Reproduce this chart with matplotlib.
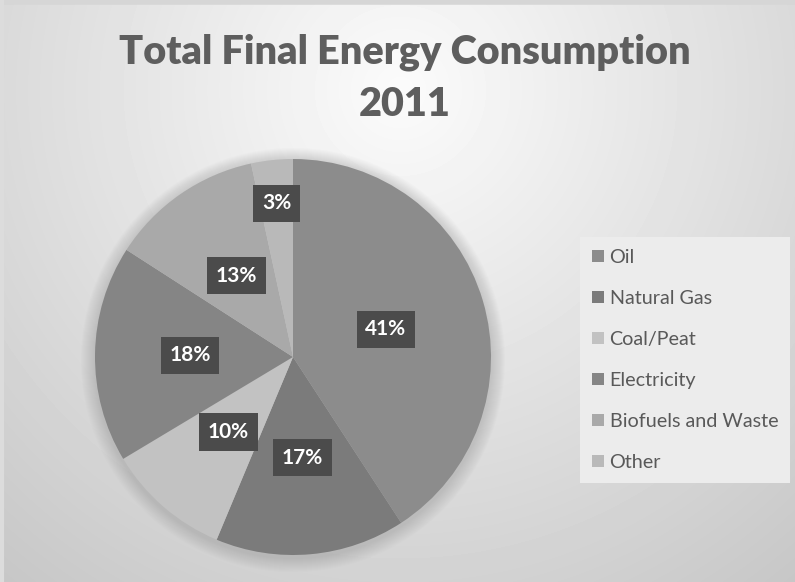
import numpy as np
import matplotlib
matplotlib.use('Agg')
import matplotlib.pyplot as plt
from matplotlib.patches import Patch

plt.rcParams['font.family'] = ['Lato', 'DejaVu Sans']

# data
categories = ['Oil', 'Natural Gas', 'Coal/Peat', 'Electricity', 'Biofuels and Waste', 'Other']
shares = [40.8, 15.5, 10.1, 17.7, 12.5, 3.4]
shown_labels = ['41%', '17%', '10%', '18%', '13%', '3%']
colors = ['#8c8c8c', '#7b7b7b', '#c2c2c2', '#858585', '#a9a9a9', '#b9b9b9']
label_radius = [0.49, 0.51, 0.5, 0.52, 0.5, 0.78]

W, H = 795, 582
fig = plt.figure(figsize=(W / 100, H / 100), dpi=100)

# background: soft radial gradient, light at the top middle
bg = fig.add_axes([0, 0, 1, 1])
yy, xx = np.mgrid[0:H, 0:W]
d = np.sqrt(((xx - 400) / 520.0) ** 2 + ((yy - 90) / 520.0) ** 2)
shade = 0.985 - 0.17 * np.clip(d, 0, 1.2)
bg.imshow(shade, cmap='gray', vmin=0, vmax=1, extent=[0, W, H, 0], aspect='auto')
bg.plot([0, W], [2, 2], color='#d6d6d6', lw=4)
bg.plot([2, 2], [0, H], color='#dcdcdc', lw=3)
bg.set_xlim(0, W)
bg.set_ylim(H, 0)
bg.axis('off')

# soft shadow ring around the pie, a bit lower than the pie itself
cx, cy, r = 293, 357, 198
for k in range(14):
    circ = plt.Circle((cx, cy + 3), r + 14 - k, color='#707070', alpha=0.02, lw=0)
    bg.add_patch(circ)

ax = fig.add_axes([(cx - r) / W, (H - cy - r) / H, 2 * r / W, 2 * r / H])
wedges, _ = ax.pie(shares, colors=colors, startangle=90, counterclock=False,
                   radius=1, wedgeprops=dict(linewidth=0))
for w, txt, rad in zip(wedges, shown_labels, label_radius):
    ang = np.deg2rad((w.theta1 + w.theta2) / 2)
    ax.text(rad * np.cos(ang), rad * np.sin(ang), txt, ha='center', va='center',
            color='white', fontsize=15, fontweight='bold',
            bbox=dict(boxstyle='square,pad=0.42', facecolor='#4b4b4b', edgecolor='none'))
ax.set_xlim(-1, 1)
ax.set_ylim(-1, 1)
ax.set_aspect('equal')
ax.axis('off')

fig.text(405 / W, 1 - 52 / H, 'Total Final Energy Consumption', ha='center', va='center',
         fontsize=28.5, fontweight='heavy', color='#5e5e5e')
fig.text(405 / W, 1 - 105 / H, '2011', ha='center', va='center',
         fontsize=28.5, fontweight='heavy', color='#5e5e5e')

handles = [Patch(facecolor=c, edgecolor='none') for c in colors]
leg = fig.legend(handles, categories, loc='upper left',
                 bbox_to_anchor=(580 / W, 1 - 237 / H), frameon=True, fancybox=False,
                 fontsize=14.2, labelspacing=1.22, handlelength=0.6, handleheight=0.6,
                 handletextpad=0.3, borderpad=0.6, borderaxespad=0)
leg.get_frame().set_facecolor('#ececec')
leg.get_frame().set_edgecolor('none')
leg.get_frame().set_alpha(1)
for t in leg.get_texts():
    t.set_color('#595959')

fig.savefig('out.png', dpi=100)
